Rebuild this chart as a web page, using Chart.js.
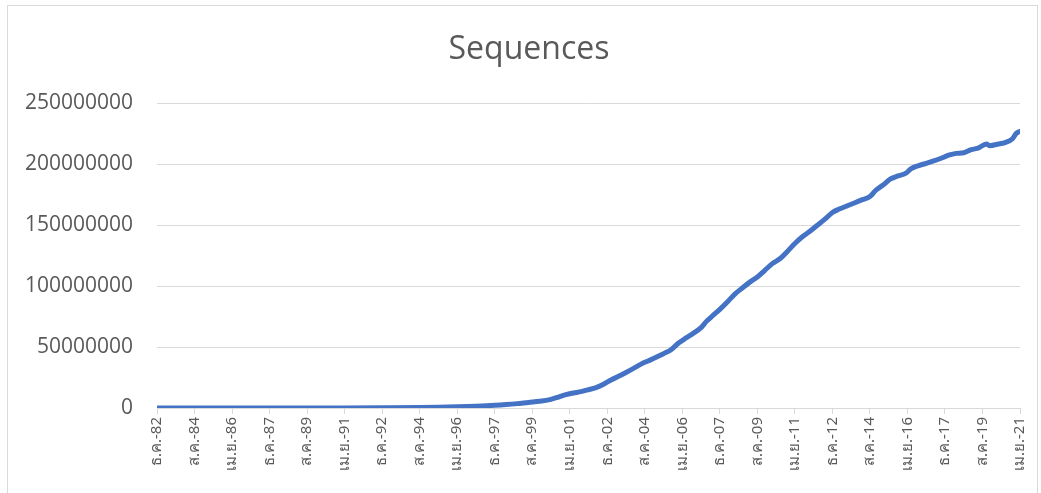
<!DOCTYPE html>
<html>
<head>
<meta charset="utf-8">
<script src="https://cdn.jsdelivr.net/npm/chart.js@4/dist/chart.umd.min.js"></script>
<style>
  html, body { margin: 0; padding: 0; background: #fff; }
  #wrap { position: relative; width: 1041px; height: 493px; overflow: hidden; }
  #frame { position: absolute; left: 7px; top: 5px; width: 1031px; height: 520px; border: 1px solid #d9d9d9; box-sizing: border-box; }
  canvas { position: absolute; left: 0; top: 0; }
</style>
</head>
<body>
<div id="wrap">
  <div id="frame"></div>
  <canvas id="seqchart" width="1041" height="493"></canvas>
</div>
<script>
// months counted from Dec 1982 (0) to Apr 2021 (460)
const months = [0, 20, 40, 60, 80, 100, 120, 140, 150, 160, 170, 180, 186, 192, 198, 204, 210, 214, 218, 222,
  226, 230, 234, 238, 242, 246, 250, 254, 258, 262, 266, 270, 274, 278, 282, 286, 290, 293, 296, 300,
  304, 308, 312, 316, 320, 324, 328, 332, 336, 340, 344, 348, 352, 356, 360, 364, 368, 372, 376, 380,
  383, 387, 391, 395, 399, 402, 406, 410, 414, 418, 422, 426, 430, 434, 438, 442, 444, 448, 452, 456,
  458, 460];

// sequence counts in millions
const sequencesMillions = [0.0006, 0.003, 0.008, 0.016, 0.03, 0.06, 0.15, 0.35, 0.6, 1.0, 1.5, 2.2, 2.8, 3.6, 4.6, 5.5, 7.1, 9.0, 11.0, 12.3,
  13.4, 15.0, 16.8, 19.5, 23.0, 26.0, 29.2, 32.5, 36.0, 38.8, 41.6, 44.6, 47.8, 53.3, 57.5, 61.5, 66.0, 71.3, 75.5, 81.0,
  87.0, 93.5, 98.5, 103.3, 107.5, 113.0, 118.5, 122.5, 128.5, 135.0, 140.5, 145.0, 150.0, 155.0, 160.5, 163.5, 166.0, 168.5, 171.0, 173.5,
  178.5, 183.0, 188.0, 190.5, 192.5, 196.5, 199.0, 200.8, 202.8, 205.0, 207.5, 209.0, 209.5, 212.0, 213.5, 216.7, 215.3, 216.5, 217.8, 221.0,
  225.4, 227.0];

const tickLabels = ["ธ.ค.-82", "ส.ค.-84", "เม.ย.-86", "ธ.ค.-87", "ส.ค.-89", "เม.ย.-91", "ธ.ค.-92", "ส.ค.-94",
  "เม.ย.-96", "ธ.ค.-97", "ส.ค.-99", "เม.ย.-01", "ธ.ค.-02", "ส.ค.-04", "เม.ย.-06", "ธ.ค.-07",
  "ส.ค.-09", "เม.ย.-11", "ธ.ค.-12", "ส.ค.-14", "เม.ย.-16", "ธ.ค.-17", "ส.ค.-19", "เม.ย.-21"];

const labelColor = "#595959";
const gridColor = "#d9d9d9";

const points = months.map((m, i) => ({ x: m, y: sequencesMillions[i] * 1000000 }));

const seqChart = new Chart(document.getElementById("seqchart"), {
    type: "line",
    data: {
        datasets: [{
            label: "Sequences",
            data: points,
            borderColor: "#4472c4",
            borderWidth: 5,
            pointRadius: 0,
            cubicInterpolationMode: "monotone",
            borderCapStyle: "round",
            borderJoinStyle: "round"
        }]
    },
    options: {
        responsive: false,
        animation: false,
        layout: { padding: { left: 17, right: 0, top: 0, bottom: 0 } },
        plugins: {
            legend: { display: false },
            tooltip: { enabled: false },
            title: {
                display: true,
                text: "Sequences",
                color: labelColor,
                font: { family: "'Open Sans', sans-serif", size: 32, weight: "normal", lineHeight: 1.2 },
                padding: { top: 31, bottom: 34 }
            }
        },
        scales: {
            x: {
                type: "linear",
                min: 0,
                max: 460,
                afterFit: (s) => { s.height = 85; },
                border: { display: true, color: gridColor },
                grid: { display: true, drawOnChartArea: false, drawTicks: true, tickLength: 6, color: gridColor },
                ticks: {
                    stepSize: 20,
                    autoSkip: false,
                    maxRotation: 90,
                    minRotation: 90,
                    padding: 3,
                    color: labelColor,
                    font: { family: "'Noto Sans', sans-serif", size: 15 },
                    callback: (v) => tickLabels[Math.round(v / 20)]
                }
            },
            y: {
                min: 0,
                max: 250000000,
                afterFit: (s) => { s.width = 140; },
                border: { display: false },
                grid: { color: gridColor, drawTicks: false, lineWidth: 1 },
                ticks: {
                    stepSize: 50000000,
                    padding: 24,
                    color: labelColor,
                    font: { family: "'Open Sans', sans-serif", size: 21 },
                    callback: (v) => String(v)
                }
            },
            // empty right-hand strip so the plot ends where the reference does
            spacer: {
                position: "right",
                display: true,
                afterFit: (s) => { s.width = 20; },
                border: { display: false },
                grid: { display: false },
                ticks: { display: false }
            }
        }
    }
});
</script>
</body>
</html>
